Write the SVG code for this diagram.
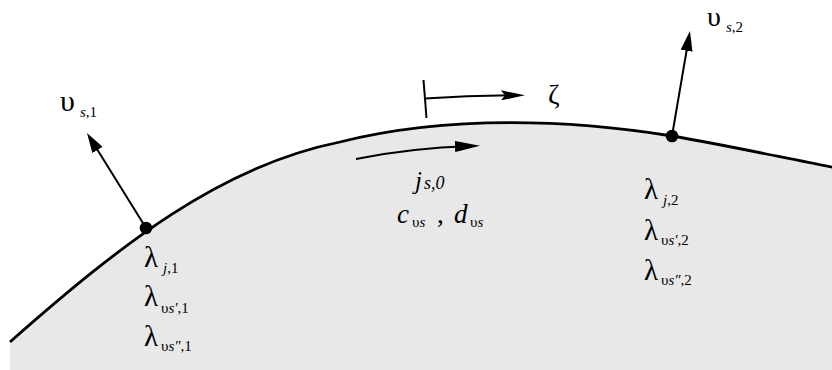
<svg xmlns="http://www.w3.org/2000/svg" width="832" height="370" viewBox="0 0 832 370">
<style>
.t{font-family:"Liberation Serif","DejaVu Serif",serif;fill:#000}
.big{font-size:29px}
.ups{font-size:30px}
.mid{font-size:27px}
.sub{font-size:15px}
.it{font-style:italic}
.ln{fill:none;stroke:#000;stroke-width:2}
</style>
<defs>
<marker id="ah" markerUnits="userSpaceOnUse" viewBox="0 0 20 12" markerWidth="20" markerHeight="12" refX="12" refY="6" orient="auto">
<path d="M0,0 L20,6 L0,12 Z" fill="#000"/>
</marker>
<marker id="ah2" markerUnits="userSpaceOnUse" viewBox="0 0 24 10" markerWidth="24" markerHeight="10" refX="16" refY="5" orient="auto">
<path d="M0,0 L24,5 L0,10 L4,5 Z" fill="#000"/>
</marker>
<marker id="ah3" markerUnits="userSpaceOnUse" viewBox="0 0 25 11" markerWidth="25" markerHeight="11" refX="17" refY="5.5" orient="auto">
<path d="M0,0 L25,5.5 L0,11 Z" fill="#000"/>
</marker>
</defs>
<g id="region">
<path d="M10,342 C120,245 220,166 340,142 C450,114.5 572,120 672,136 C720,144 780,157 834,167.5 L834,372 L10,372 Z" fill="#e8e8e8"/>
<path d="M10,342 C120,245 220,166 340,142 C450,114.5 572,120 672,136 C720,144 780,157 834,167.5" fill="none" stroke="#000" stroke-width="2.8"/>
</g>
<g id="connectors">
<line class="ln" x1="146" y1="228" x2="91.2" y2="139.8" marker-end="url(#ah)"/>
<line class="ln" x1="672" y1="136" x2="688.6" y2="38.9" marker-end="url(#ah)"/>
<line class="ln" x1="423.5" y1="80" x2="426.5" y2="118"/>
<path class="ln" d="M425,98.5 Q470,95.5 517,95.3" marker-end="url(#ah2)"/>
<path class="ln" d="M356,159 Q410,148 472,146" marker-end="url(#ah3)"/>
</g>
<g id="point1">
<circle cx="146" cy="228" r="6.3" fill="#000"/>
<text class="t ups" x="60" y="111">υ</text>
<text class="t sub" x="80" y="117"><tspan class="it">s</tspan>,1</text>
<text class="t big" x="144" y="267">λ</text>
<text class="t sub" x="163" y="273"><tspan class="it">j</tspan>,1</text>
<text class="t big" x="144" y="306">λ</text>
<text class="t sub" x="161" y="313">υ<tspan class="it">s′</tspan>,1</text>
<text class="t big" x="144" y="346">λ</text>
<text class="t sub" x="161" y="351">υ<tspan class="it">s″</tspan>,1</text>
</g>
<g id="point2">
<circle cx="672" cy="136" r="6.3" fill="#000"/>
<text class="t" style="font-size:28px" x="707" y="26">υ</text>
<text class="t sub" x="726" y="32"><tspan class="it">s</tspan>,2</text>
<text class="t big" x="644" y="199">λ</text>
<text class="t sub" x="663" y="205"><tspan class="it">j</tspan>,2</text>
<text class="t big" x="644" y="240">λ</text>
<text class="t sub" x="661" y="245">υ<tspan class="it">s′</tspan>,2</text>
<text class="t big" x="644" y="280">λ</text>
<text class="t sub" x="661" y="285">υ<tspan class="it">s″</tspan>,2</text>
</g>
<g id="surface">
<text class="t it" style="font-size:25px" x="415" y="189">j</text>
<text class="t it" style="font-size:18px" x="424" y="189">s,0</text>
<text class="t mid it" x="397" y="223">c</text>
<text class="t sub" x="412" y="227">υ<tspan class="it">s</tspan></text>
<text class="t mid" x="437" y="223">,</text>
<text class="t mid it" x="454" y="223">d</text>
<text class="t sub" x="470" y="227">υ<tspan class="it">s</tspan></text>
</g>
<g id="zeta">
<text class="t" style="font-size:28px" x="548" y="104">ζ</text>
</g>
</svg>
